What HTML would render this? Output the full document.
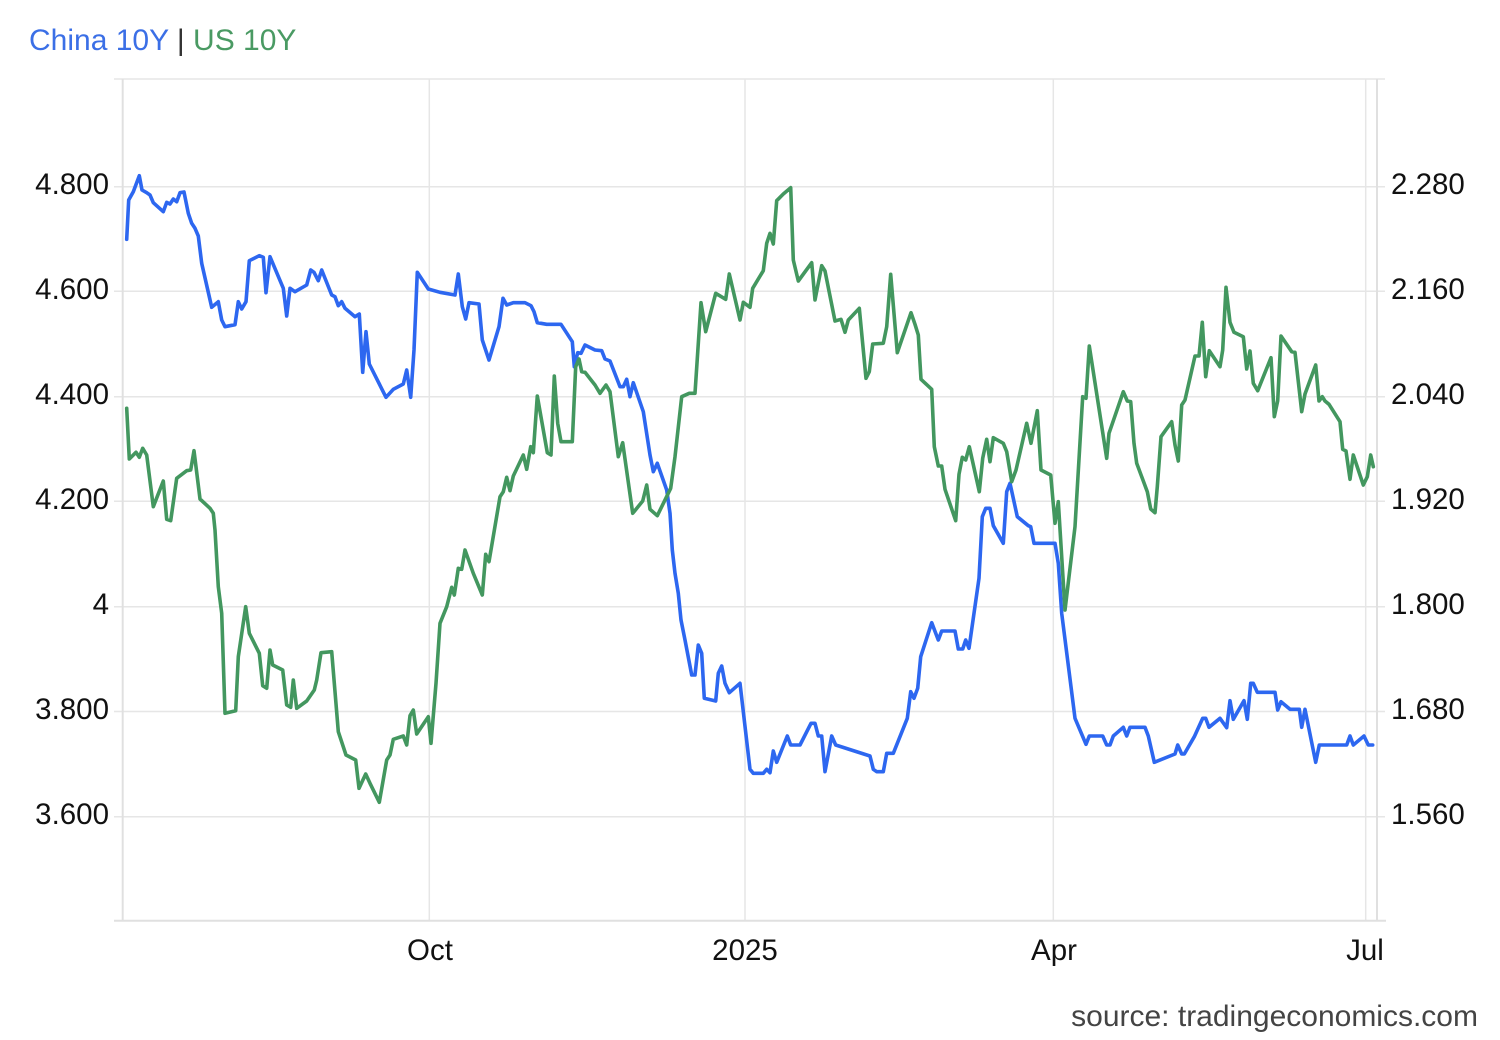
<!DOCTYPE html>
<html>
<head>
<meta charset="utf-8">
<style>
html,body{margin:0;padding:0;background:#fff;}
body{width:1500px;height:1040px;overflow:hidden;}
svg{display:block;}
text{font-family:"Liberation Sans",Arial,sans-serif;}
</style>
</head>
<body>
<svg width="1500" height="1040" viewBox="0 0 1500 1040" xmlns="http://www.w3.org/2000/svg">
<rect x="0" y="0" width="1500" height="1040" fill="#fff"/>
<!-- title -->
<text x="29" y="50" font-size="30"><tspan fill="#3b6fe6">China 10Y</tspan><tspan fill="#333"> | </tspan><tspan fill="#4a9a63">US 10Y</tspan></text>

<!-- grid -->
<g stroke="#e6e6e6" stroke-width="1.5" fill="none">
<line x1="114" y1="79" x2="1385" y2="79"/>
<line x1="114" y1="186.7" x2="1385" y2="186.7"/>
<line x1="114" y1="291.2" x2="1385" y2="291.2"/>
<line x1="114" y1="396.7" x2="1385" y2="396.7"/>
<line x1="114" y1="501.2" x2="1385" y2="501.2"/>
<line x1="114" y1="606.7" x2="1385" y2="606.7"/>
<line x1="114" y1="711.5" x2="1385" y2="711.5"/>
<line x1="114" y1="816.7" x2="1385" y2="816.7"/>
<line x1="429.3" y1="79" x2="429.3" y2="920.7"/>
<line x1="745" y1="79" x2="745" y2="920.7"/>
<line x1="1053.3" y1="79" x2="1053.3" y2="920.7"/>
<line x1="1365.7" y1="79" x2="1365.7" y2="920.7"/>
</g>
<g stroke="#e0e0e0" stroke-width="2" fill="none">
<line x1="122.7" y1="79" x2="122.7" y2="921"/>
<line x1="1377" y1="79" x2="1377" y2="921"/>
<line x1="114" y1="920.7" x2="1386" y2="920.7"/>
</g>

<!-- left axis labels -->
<g font-size="29.5" fill="#111" text-anchor="end">
<text x="109" y="194">4.800</text>
<text x="109" y="299">4.600</text>
<text x="109" y="404">4.400</text>
<text x="109" y="509">4.200</text>
<text x="109" y="614">4</text>
<text x="109" y="719">3.800</text>
<text x="109" y="824">3.600</text>
</g>
<!-- right axis labels -->
<g font-size="29.5" fill="#111" text-anchor="start">
<text x="1391" y="194">2.280</text>
<text x="1391" y="299">2.160</text>
<text x="1391" y="404">2.040</text>
<text x="1391" y="509">1.920</text>
<text x="1391" y="614">1.800</text>
<text x="1391" y="719">1.680</text>
<text x="1391" y="824">1.560</text>
</g>
<!-- x labels -->
<g font-size="29.5" fill="#111" text-anchor="middle">
<text x="430" y="960">Oct</text>
<text x="745" y="960">2025</text>
<text x="1054" y="960">Apr</text>
<text x="1365" y="960">Jul</text>
</g>

<!-- China 10Y (blue) -->
<polyline fill="none" stroke="#2d67f0" stroke-width="3.6" stroke-linejoin="round" stroke-linecap="round" points="
126.7,239.3 128.7,200 133.3,191.7 139.3,175.7 142,190 146.7,192.7 150,195 153.3,202.7 163.3,211.7 166.7,202.3 170,204 173.3,199 176.7,201.7 180,192.7 184,192 188.3,213.3 191.7,223.3 195,228.3 198.3,236 201.7,263.3 211.7,307.3 218.3,301.7 221.7,320 225,326.7 235,324.7 238.3,301.7 241.7,309 246,301.7 249.3,260.7 259.3,255.7 263.3,257.3 266,292.7 270,256.7 283.3,288.3 286.7,316 290,288.3 295,291.7 306.7,285 310.7,270 314,272.3 318.3,280.7 321.7,270 331.7,295 335,296.7 338.3,305.7 341.7,301.7 345,308.3 355,316.7 359.3,314 362.7,372.3 366,331.7 369.3,364 386,397.3 393.3,389.3 403.3,384 406.7,370 410.7,397.3 414,350 417.3,272.3 428.3,289 440,292.3 455,295 458.3,274 462.3,306.7 465.7,319 469,302.7 479,304 482.3,340 489,360 499,326.7 503,298.3 506.7,305 513.3,302.7 525,302.7 531,305.7 534,311.7 537.3,322.7 546.7,324.3 561,324.3 572.3,341.7 574.3,366.7 577.7,352.7 581,353.3 585,345 595,350 601.7,350.7 605,359 610,361 620,386.7 623.3,386.7 626.7,379.3 630,396.7 633.3,382.7 643.3,411.7 650,455 653.3,471.7 657.3,463.3 666.7,490 670,513.3 672.3,550 675,573.3 678.3,593.3 681,620 685,640 691.7,675 695,675 698.3,645 701.7,653.3 704.3,698.3 715.7,701 718.3,673.3 721.7,666 725,683.3 729.3,692.7 740,683.3 750,769.3 753.3,773.3 763.3,773.3 766.7,769.3 770,772.7 773.3,751 776.7,762.3 787.3,736 790.7,745 800,745 811,723.3 815,723.3 818.3,736 821.7,736 825,771.7 831.7,736 835.7,745 870,756 873.3,769.3 876.7,771.7 883.3,771.7 886.7,753.3 893.3,753.3 907.3,718.3 910.7,691.7 914,698.3 917.7,688.3 920.7,656.7 931.7,622.7 938.3,640 941.7,631 955,631 958.3,649 962.7,649 965.7,640 969,648.3 979,578.3 982.3,516.7 985.7,508.3 990,508.3 993.3,525.7 1003.3,543.3 1006.7,491.7 1010,483.3 1017.3,516.7 1028.3,525.7 1030.7,526.7 1034,543.3 1055,543.3 1058.3,563.3 1061.7,613.3 1075,718.3 1086,744.3 1089.3,736 1102.7,736 1106.7,745 1110,745 1113.3,736 1123.3,727.3 1126.7,736 1130,727.3 1145,727.3 1148.3,736 1154.3,762.3 1175,754 1177.7,745 1181.7,754 1184.3,754 1194.3,736.7 1202.7,718.3 1205.7,718.3 1209,727.3 1220,718.3 1226.7,727.7 1230,700.7 1233.3,719.3 1244,700.7 1247.3,719.3 1250.7,683.3 1253.3,683.3 1257.3,692.3 1275,692.3 1277.7,710 1281,701.7 1290,709.3 1299.3,709.3 1301.7,727.3 1305,709.3 1315.7,762.3 1319.3,745 1346.7,745 1350,736 1353.3,745 1364,736 1368.3,745 1372.7,745"/>

<!-- US 10Y (green) -->
<polyline fill="none" stroke="#43975f" stroke-width="3.6" stroke-linejoin="round" stroke-linecap="round" points="
126.7,408.3 129.3,459 136,452.3 139.3,457.3 142.7,448.3 146.7,455 153.3,506.7 163.3,481 166.7,519.3 170.7,520.7 176.7,478.3 186.7,470.7 190.7,470 194,450.7 200,499 210,508.3 213.3,513.3 215,530 218.3,586.7 221.7,613.3 225,713.3 235.7,710.7 238.3,656.7 245.7,606.7 249.3,633.3 259.3,653.3 262.7,685.7 266.7,688.3 270,650 272.7,665 282.7,670 286.7,705 290.7,707.3 293.3,680 296.7,708.3 306.7,701 314.3,690 316.7,680 321,652.7 331.7,651.7 338.3,731.7 346,755 355.7,760 359,788.3 365.7,774 370,783.3 379.3,802.3 386.7,760 390,755 393.3,739.3 403.3,736 406.7,745 410,715.7 413.3,710 416.7,734 428.3,716.7 431,743.3 436,683.3 440,623.3 446.7,606.7 451.7,587.3 454.3,595 458.3,568.3 461.7,569.3 465,550 473.3,573.3 482.3,595 485.7,554.3 489,561.7 500,496.7 503.3,491.7 506.7,477.3 510,490.7 513.3,476 523.3,455 526.7,469.3 530.7,446.7 533.3,452.7 537.3,396 547.3,452.7 551,455 554.3,376 557.7,423.3 561,441.7 572.3,441.7 575.7,366.7 579,359 581.7,371.7 585,372.3 595,385 600,393.3 606,385 610,391.7 618.3,456.7 622.7,442.7 632.7,513.3 642.7,501 646.7,485 650,509.3 657.3,515.7 670.7,488.3 675,456.7 681.7,396.7 689.3,393.3 695,393.3 701,302.7 705.7,331.7 715.7,293.3 725.7,299.3 729.3,274 740,320 743.3,302.3 750,307.3 752.7,288.3 763.3,270.7 766.7,243.3 770,233.3 773.3,244 776.7,200.7 783.3,194 790.7,187.7 793.3,260 798.3,281 811.7,262.7 815,300 821.7,265.7 825,271 835,321 841,319.3 845,332.3 848.3,320 859.3,308.3 866,378.3 869.3,371.7 872.7,344 883.3,343.3 886.7,326.7 890.7,274.3 897.3,352.7 911,312.7 915,324.3 918.3,335 921,379.3 931.7,389.3 934.3,446.7 938.3,466 941.7,466 945,489.3 955.7,520.7 959,474.3 962.3,457.3 965.7,460 969.3,446.7 979.3,491.7 982.7,458.3 986.7,439.3 990,461.7 993.3,437.7 1003.3,443.3 1006.7,451.7 1011.7,481.7 1016,470 1026.7,423.3 1031,443.3 1037.3,410.7 1041,470 1050.7,475 1055,523.3 1058.3,501.7 1065,610 1075,526.7 1082.7,396.7 1086,398.3 1089.3,346 1106.7,458.3 1109,433.3 1123.3,391.7 1127.3,401 1130.7,401.7 1134,443.3 1136.7,463.3 1147.3,491.7 1150.7,509 1155,512.7 1157.3,486.7 1161,436.7 1171.7,421.7 1175,445 1178.3,461 1181.7,405 1185,400 1195,356 1199,356 1202.3,322.3 1205.7,376.7 1209.3,350.7 1220,366.7 1222.7,350 1226,287.3 1230,322.3 1234,332.3 1243.3,336.7 1246.7,369 1250,351 1253.3,383.3 1257.7,390.7 1271,357.7 1274.3,416.7 1277.7,400.7 1281,336 1291.7,351.7 1295,352.3 1301.7,411.7 1305,394 1315.7,365 1319,401 1322.3,396.7 1325,401 1329,404.3 1340,421.7 1342.7,449.3 1346,451 1350,479.3 1353.3,455 1363.3,485 1367.3,476.7 1370.7,455 1373.3,466.7"/>

<!-- source -->
<text x="1478" y="1026" font-size="30" fill="#444" text-anchor="end">source: tradingeconomics.com</text>
</svg>
</body>
</html>
